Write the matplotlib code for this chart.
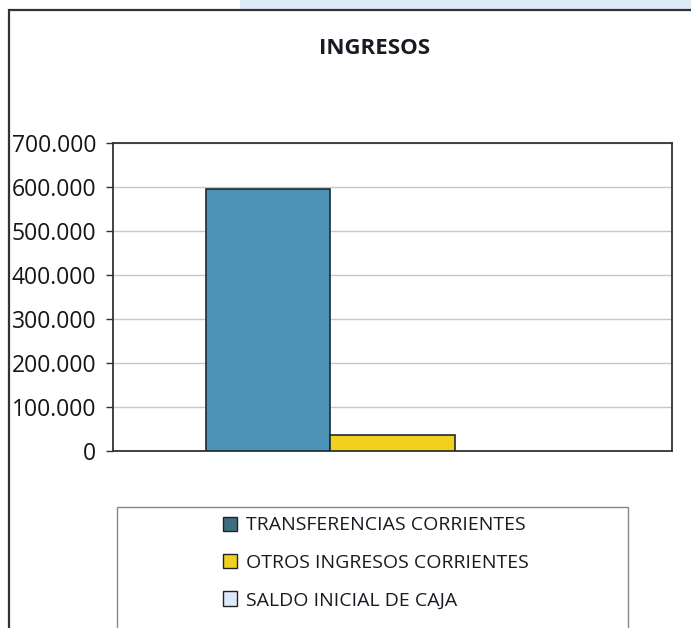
import matplotlib.pyplot as plt
from matplotlib.patches import Rectangle, Patch

# data
series = ["TRANSFERENCIAS CORRIENTES", "OTROS INGRESOS CORRIENTES", "SALDO INICIAL DE CAJA"]
values = [595000, 36000, 0]
colors = ["#4A93B4", "#F0D21E", "#DCE9F6"]
legend_colors = ["#3D6E80", "#F0D21E", "#DCE9F6"]
yticks = [0, 100000, 200000, 300000, 400000, 500000, 600000, 700000]
ytick_labels = ["0", "100.000", "200.000", "300.000", "400.000", "500.000", "600.000", "700.000"]

W, H = 691, 628
fig = plt.figure(figsize=(W / 100, H / 100), dpi=100)
fig.patch.set_facecolor("white")

# scan artefact strip on top and outer frame
fig.patches.append(Rectangle((240 / W, 1 - 9 / H), 1, 9 / H, transform=fig.transFigure,
                             facecolor="#DDEBF7", edgecolor="none", zorder=0))
fig.patches.append(Rectangle((9 / W, -0.1), 1, 1 - 10 / H + 0.1, transform=fig.transFigure,
                             facecolor="white", edgecolor="#333333", lw=1.6, zorder=1))

ax = fig.add_axes([113 / W, 1 - 451 / H, 559 / W, 308 / H])
ax.set_zorder(2)

width = 0.222
offsets = [-width, 0, width]
for off, v, c in zip(offsets, values, colors):
    ax.bar(off, v, width=width, align="center", color=c,
           edgecolor="#1F2A30" if v > 0 else "none", lw=1.2, zorder=3)

ax.set_xlim(-0.5, 0.5)
ax.set_ylim(0, 700000)
ax.set_yticks(yticks)
ax.set_yticklabels(ytick_labels, fontsize=16.5, family="Open Sans", color="#151515")
ax.set_xticks([])
ax.yaxis.grid(True, color="#C8C8C8", lw=1, zorder=0)
ax.tick_params(axis="y", length=5, width=1, color="#333333", pad=7)
for s in ax.spines.values():
    s.set_color("#333333")
    s.set_linewidth(1.3)

fig.text(375 / W, 1 - 48 / H, "INGRESOS", ha="center", va="center",
         fontsize=16, fontweight="bold", family="Open Sans", color="#1A1A22")

# legend box
fig.patches.append(Rectangle((117 / W, -0.1), 511 / W, 1 - 507 / H + 0.1, transform=fig.transFigure,
                             facecolor="white", edgecolor="#888888", lw=1, zorder=1))
handles = [Patch(facecolor=c, edgecolor="#222222", lw=1) for c in legend_colors]
leg = fig.legend(handles, series, loc="upper left", bbox_to_anchor=(205 / W, 1 - 499 / H),
                 frameon=False, prop={"family": "Open Sans", "size": 14},
                 handlelength=0.75, handleheight=0.75, handletextpad=0.45, labelspacing=1.0)
for t in leg.get_texts():
    t.set_color("#1A1A22")

fig.savefig("out.png", dpi=100)
